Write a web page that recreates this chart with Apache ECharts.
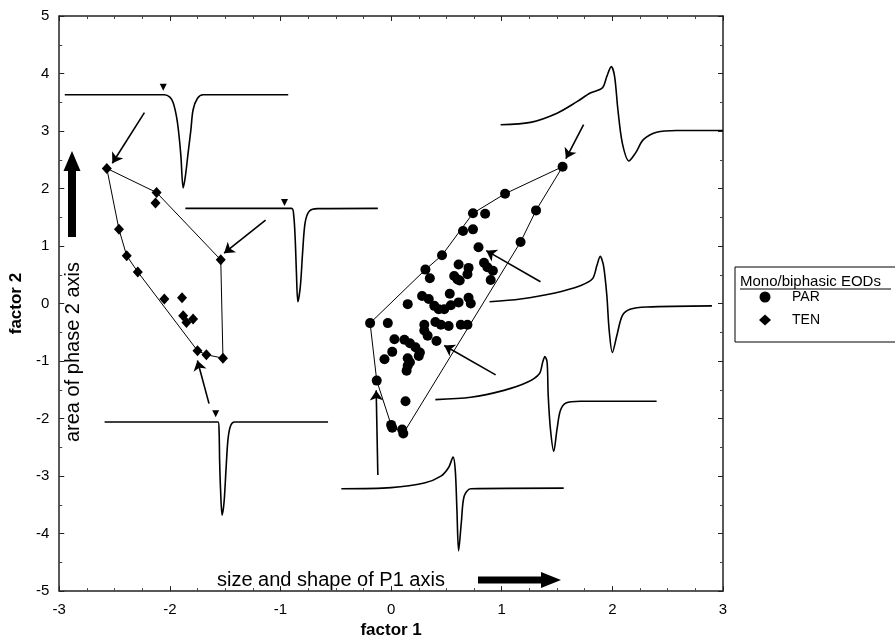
<!DOCTYPE html>
<html>
<head>
<meta charset="utf-8">
<script src="https://cdn.jsdelivr.net/npm/echarts@6/dist/echarts.min.js"></script>
<style>
  html, body { margin: 0; padding: 0; background: #fff; }
  #main { width: 895px; height: 644px; }
</style>
</head>
<body>
<div id="main"></div>
<script>
// factor scores
const parPoints = [
  [-0.19, -0.34], [0.74, 1.57], [0.85, 1.56], [1.03, 1.91], [1.55, 2.38], [1.31, 1.62],
  [1.17, 1.07], [0.11, -2.26], [0.10, -2.19], [0.00, -2.11], [0.01, -2.16], [-0.13, -1.34],
  [0.65, 1.26], [0.74, 1.29], [0.79, 0.98], [0.46, 0.84], [0.84, 0.71], [0.87, 0.63],
  [0.92, 0.57], [0.90, 0.41], [0.61, 0.68], [0.70, 0.62], [0.31, 0.59], [0.57, 0.48],
  [0.60, 0.42], [0.69, 0.51], [0.35, 0.44], [0.62, 0.40], [0.53, 0.17], [0.28, 0.13],
  [0.34, 0.08], [0.15, -0.01], [0.39, -0.04], [0.43, -0.10], [0.48, -0.10], [0.54, -0.03],
  [0.61, 0.02], [0.70, 0.10], [0.72, 0.00], [-0.03, -0.34], [0.30, -0.37], [0.40, -0.32],
  [0.45, -0.37], [0.52, -0.39], [0.63, -0.37], [0.69, -0.37], [0.30, -0.47], [0.33, -0.56],
  [0.41, -0.65], [0.03, -0.62], [0.12, -0.63], [0.17, -0.69], [0.22, -0.76], [0.26, -0.85],
  [0.25, -0.91], [0.01, -0.84], [-0.06, -0.97], [0.15, -0.95], [0.17, -1.02], [0.15, -1.08],
  [0.14, -1.17], [0.13, -1.70]
];
const tenPoints = [
  [-2.57, 2.35], [-2.12, 1.93], [-2.13, 1.75], [-2.46, 1.29], [-2.39, 0.83], [-2.29, 0.55],
  [-1.54, 0.76], [-2.05, 0.08], [-1.89, 0.10], [-1.88, -0.21], [-1.79, -0.27], [-1.85, -0.33],
  [-1.75, -0.82], [-1.67, -0.89], [-1.52, -0.95]
];
const parHull = [
  [-0.19, -0.34], [0.31, 0.59], [0.46, 0.84], [0.74, 1.57], [1.03, 1.91], [1.55, 2.38],
  [1.31, 1.62], [1.17, 1.07], [0.11, -2.26], [0.00, -2.11], [-0.13, -1.34]
];
const tenHull = [
  [-2.57, 2.35], [-2.12, 1.93], [-1.54, 0.76], [-1.52, -0.95], [-1.67, -0.89], [-1.75, -0.82],
  [-2.29, 0.55], [-2.39, 0.83], [-2.46, 1.29]
];

// example EOD traces drawn into the plot
const waveTen1 = [[-2.95, 3.63], [-2.05, 3.63], [-2.00, 3.59], [-1.97, 3.49], [-1.94, 3.25], [-1.92, 2.97],
  [-1.90, 2.56], [-1.88, 2.01], [-1.86, 2.21], [-1.835, 2.62], [-1.81, 3.02], [-1.79, 3.37],
  [-1.75, 3.57], [-1.70, 3.63], [-0.93, 3.63]];
const waveTen2 = [[-1.86, 1.655], [-0.90, 1.655], [-0.88, 1.52], [-0.867, 1.12], [-0.856, 0.54],
  [-0.843, 0.03], [-0.82, 0.31], [-0.80, 0.89], [-0.777, 1.41], [-0.738, 1.61], [-0.663, 1.65], [-0.12, 1.655]];
const waveTen3 = [[-2.59, -2.06], [-1.564, -2.06], [-1.555, -2.23], [-1.55, -2.75], [-1.541, -3.27],
  [-1.528, -3.68], [-1.51, -3.45], [-1.492, -2.87], [-1.474, -2.35], [-1.45, -2.12], [-1.415, -2.06], [-0.57, -2.06]];
const wavePar1 = [[0.99, 3.11], [1.26, 3.15], [1.50, 3.31], [1.68, 3.51], [1.80, 3.66], [1.91, 3.75],
  [1.95, 3.95], [1.99, 4.12], [2.02, 3.95], [2.05, 3.37], [2.09, 2.79], [2.15, 2.48], [2.21, 2.62],
  [2.28, 2.85], [2.40, 2.98], [2.58, 3.01], [3.0, 3.01]];
const wavePar2 = [[0.89, 0.03], [1.17, 0.08], [1.47, 0.18], [1.71, 0.31], [1.82, 0.43], [1.86, 0.66],
  [1.89, 0.82], [1.92, 0.66], [1.95, 0.14], [1.97, -0.44], [2.00, -0.85], [2.04, -0.56], [2.09, -0.21],
  [2.16, -0.10], [2.31, -0.06], [2.90, -0.04]];
const wavePar3 = [[0.40, -1.67], [0.72, -1.63], [1.02, -1.51], [1.23, -1.37], [1.34, -1.22], [1.37, -1.02],
  [1.39, -0.92], [1.41, -1.02], [1.42, -1.60], [1.44, -2.18], [1.47, -2.57], [1.50, -2.18], [1.53, -1.86],
  [1.58, -1.73], [1.71, -1.70], [2.40, -1.70]];
const wavePar4 = [[-0.45, -3.22], [0.0, -3.20], [0.30, -3.12], [0.45, -3.00], [0.52, -2.85], [0.56, -2.67],
  [0.58, -2.90], [0.595, -3.6], [0.61, -4.3], [0.635, -3.8], [0.66, -3.35], [0.72, -3.22], [1.56, -3.21]];
const onsetMarks = [[-2.06, 3.76], [-0.964, 1.755], [-1.586, -1.915]];

// pointer arrows: [tail, head]
const arrows = [
  [[-2.23, 3.32], [-2.52, 2.44]],
  [[-1.135, 1.45], [-1.51, 0.875]],
  [[-1.646, -1.74], [-1.751, -0.99]],
  [[1.74, 3.11], [1.58, 2.52]],
  [[1.35, 0.38], [0.86, 0.92]],
  [[0.945, -1.24], [0.48, -0.73]],
  [[-0.12, -2.98], [-0.135, -1.51]]
];

const xTicks = { min: -3, max: 3, step: 1 };
const yTicks = { min: -5, max: 5, step: 1 };

const FONT = 'Liberation Sans, Arial, sans-serif';
const chart = echarts.init(document.getElementById('main'), null, { renderer: 'canvas' });

function frameAxis(base, showLabels, minorSplit) {
  return Object.assign({
    type: 'value',
    axisLine: { show: true, onZero: false, lineStyle: { color: '#222', width: 1.5 } },
    axisTick: { show: true, inside: true, length: 5, lineStyle: { color: '#222' } },
    minorTick: { show: true, splitNumber: minorSplit, length: 3, lineStyle: { color: '#444' } },
    splitLine: { show: false },
    axisLabel: { show: showLabels, color: '#000', fontFamily: FONT, fontSize: 15 }
  }, base);
}

function wave(data) {
  return {
    type: 'line', data: data, symbol: 'none', smooth: 0.3, silent: true,
    lineStyle: { color: '#000', width: 1.6 }, z: 3
  };
}

function hull(data) {
  return {
    type: 'line', data: data.concat([data[0]]), symbol: 'none', silent: true,
    lineStyle: { color: '#000', width: 1 }, z: 2
  };
}

const option = {
  backgroundColor: '#fff',
  animation: false,
  grid: { left: 57.5, right: 172, top: 16, bottom: 51 },
  xAxis: [
    frameAxis({
      min: xTicks.min, max: xTicks.max, interval: xTicks.step, position: 'bottom',
      name: 'factor 1', nameLocation: 'middle', nameGap: 30,
      nameTextStyle: { fontFamily: FONT, fontSize: 17, fontWeight: 'bold', color: '#000' },
      axisLabel: { show: true, color: '#000', fontFamily: FONT, fontSize: 15, margin: 11 }
    }, true, 4),
    frameAxis({ min: xTicks.min, max: xTicks.max, interval: xTicks.step, position: 'top' }, false, 4)
  ],
  yAxis: [
    frameAxis({
      min: yTicks.min, max: yTicks.max, interval: yTicks.step, position: 'left',
      name: 'factor 2', nameLocation: 'middle', nameGap: 31,
      nameTextStyle: { fontFamily: FONT, fontSize: 17, fontWeight: 'bold', color: '#000' },
      axisLabel: { show: true, color: '#000', fontFamily: FONT, fontSize: 15, margin: 10 }
    }, true, 2),
    frameAxis({ min: yTicks.min, max: yTicks.max, interval: yTicks.step, position: 'right' }, false, 2)
  ],
  legend: {
    data: ['PAR', 'TEN'],
    orient: 'vertical',
    left: 754, top: 285,
    itemWidth: 12, itemHeight: 11, itemGap: 9,
    selectedMode: false,
    textStyle: { fontFamily: FONT, fontSize: 14, color: '#000', padding: [0, 0, 0, 16] }
  },
  graphic: [
    { type: 'rect', shape: { x: 735, y: 267, width: 170, height: 75 },
      style: { fill: 'none', stroke: '#000', lineWidth: 1 }, silent: true },
    { type: 'text', x: 740, y: 274, silent: true,
      style: { text: 'Mono/biphasic EODs', fontFamily: FONT, fontSize: 15, fill: '#000' } },
    { type: 'line', shape: { x1: 740, y1: 289, x2: 891, y2: 289 },
      style: { stroke: '#000', lineWidth: 1 }, silent: true },
    { type: 'text', x: 73, y: 352, rotation: Math.PI / 2, silent: true,
      style: { text: 'area of phase 2 axis', fontFamily: FONT, fontSize: 20, fill: '#000',
        align: 'center', verticalAlign: 'middle' } },
    { type: 'polygon', silent: true,
      shape: { points: [[68, 237], [76, 237], [76, 171], [80.5, 171], [72, 151], [63.5, 171], [68, 171]] },
      style: { fill: '#000' } },
    { type: 'text', x: 217, y: 580, silent: true,
      style: { text: 'size and shape of P1 axis', fontFamily: FONT, fontSize: 20, fill: '#000',
        align: 'left', verticalAlign: 'middle' } },
    { type: 'polygon', silent: true,
      shape: { points: [[478, 576.5], [541, 576.5], [541, 572], [561, 580], [541, 588], [541, 583.5], [478, 583.5]] },
      style: { fill: '#000' } }
  ],
  series: [
    Object.assign(hull(tenHull), {
      markLine: {
        silent: true, animation: false,
        symbol: ['none', 'arrow'], symbolSize: 10,
        label: { show: false },
        itemStyle: { color: '#000' },
        lineStyle: { color: '#000', width: 1.6, type: 'solid', opacity: 1 },
        data: arrows.map(a => [{ coord: a[0] }, { coord: a[1] }])
      }
    }),
    hull(parHull),
    wave(waveTen1), wave(waveTen2), wave(waveTen3),
    wave(wavePar1), wave(wavePar2), wave(wavePar3), wave(wavePar4),
    {
      type: 'scatter', data: onsetMarks, symbol: 'triangle', symbolRotate: 180,
      symbolSize: 7, itemStyle: { color: '#000', opacity: 1 }, silent: true, z: 4
    },
    {
      name: 'PAR', type: 'scatter', data: parPoints, symbol: 'circle', symbolSize: 10,
      itemStyle: { color: '#000', opacity: 1 }, z: 5
    },
    {
      name: 'TEN', type: 'scatter', data: tenPoints, symbol: 'diamond', symbolSize: [10, 11],
      itemStyle: { color: '#000', opacity: 1 }, z: 5
    }
  ]
};

chart.setOption(option);
</script>
</body>
</html>
